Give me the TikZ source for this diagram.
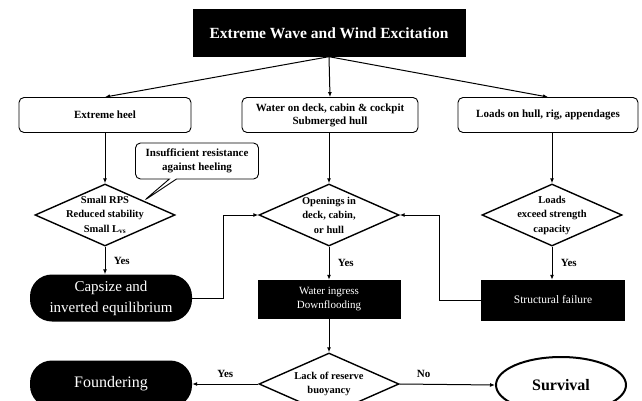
\documentclass[tikz,border=0pt]{standalone}
\usepackage{fontspec}
\setmainfont{Liberation Serif}
\usetikzlibrary{arrows.meta,calc,shapes.geometric,shapes.callouts}

\tikzset{
	blackbox/.style={draw=black, fill=black, text=white, align=center, inner sep=2pt},
	roundbox/.style={draw=black, line width=0.9pt, rounded corners=5pt, align=center, minimum height=35pt, font=\bfseries\fontsize{11}{13}\selectfont},
	decision/.style={diamond, draw=black, line width=1.4pt, inner sep=0pt, minimum width=140pt, minimum height=62pt},
	dtext/.style={align=center, inner sep=0pt, font=\bfseries\fontsize{10.5}{14.5}\selectfont},
	endstate/.style={rectangle, rounded corners=22pt, fill=black, text=white, align=center, minimum height=47pt, font=\fontsize{15}{21}\selectfont},
	flow/.style={-{Latex[length=5pt,width=4pt]}, line width=1pt},
	yesno/.style={font=\bfseries\fontsize{11}{13}\selectfont},
}

\begin{document}
\begin{tikzpicture}[x=1pt,y=-1pt]
			%%%%% START %%%%%
			\useasboundingbox (0,0) rectangle (642,401);
			
			\node[blackbox, minimum width=272pt, minimum height=47pt, font=\bfseries\fontsize{15.5}{18}\selectfont] (excite) at (329,33) {Extreme Wave and Wind Excitation};
			
			\node[roundbox, minimum width=172pt] (heel) at (105,115) {Extreme heel};
			\node[roundbox, minimum width=176pt] (water) at (330,115) {Water on deck, cabin \& cockpit\\Submerged hull};
			\node[roundbox, minimum width=180pt] (loads) at (548,115) {Loads on hull, rig, appendages};
			
			\node[decision, label={[dtext]center:{Small RPS\\Reduced stability\\Small L\textsubscript{vs}}}] (ldiam) at (105,215) {};
			\node[decision, label={[dtext]center:{Openings in\\deck, cabin,\\or hull}}] (mdiam) at (329,215) {};
			\node[decision, label={[dtext]center:{Loads\\exceed strength\\capacity}}] (rdiam) at (552,215) {};
			
			\node[rectangle callout, draw=black, line width=0.9pt, rounded corners=5pt, minimum width=123pt, minimum height=36pt, inner sep=2pt, align=center, font=\bfseries\fontsize{11}{14.5}\selectfont, callout absolute pointer={($(ldiam.north)!0.55!(ldiam.east)$)}] (note) at (197,161) {Insufficient resistance\\against heeling};
			
			\node[endstate, minimum width=162pt] (capsize) at (111,298) {Capsize and\\inverted equilibrium};
			\node[blackbox, minimum width=142pt, minimum height=38pt, font=\fontsize{11}{14}\selectfont] (ingress) at (329,299) {Water ingress\\Downflooding};
			\node[blackbox, minimum width=143pt, minimum height=40pt, font=\fontsize{11.5}{14}\selectfont] (failure) at (553,300) {Structural failure};
			
			\node[decision, label={[dtext]center:{Lack of reserve\\buoyancy}}] (reserve) at (329,384) {};
			\node[endstate, minimum width=162pt, font=\fontsize{16}{20}\selectfont] (founder) at (111,384) {Foundering};
			\node[ellipse, draw=black, line width=2pt, minimum width=130pt, minimum height=56pt, font=\bfseries\fontsize{16}{18}\selectfont] (survive) at (561,385) {Survival};
			
			\draw[flow] (excite.south) -- (heel.north);
			\draw[flow] (excite.south) -- (water.north);
			\draw[flow] (excite.south) -- (loads.north);
			
			\draw[flow] (heel.south) -- (ldiam.north);
			\draw[flow] (mdiam.north |- water.south) -- (mdiam.north);
			\draw[flow] (rdiam.north |- loads.south) -- (rdiam.north);
			
			\draw[flow] (ldiam.south) -- (ldiam.south |- capsize.north) node[yesno, midway, right=5pt] {Yes};
			\draw[flow] (mdiam.south) -- (ingress.north) node[yesno, midway, right=5pt] {Yes};
			\draw[flow] (rdiam.south) -- (rdiam.south |- failure.north) node[yesno, midway, right=5pt] {Yes};
			
			\draw[flow] (capsize.east) -- ++(31,0) |- (mdiam.west);
			\draw[flow] (failure.west) -- ++(-42,0) |- (mdiam.east);
			
			\draw[flow] (ingress.south) -- (reserve.north);
			\draw[flow] (reserve.west) -- (founder.east) node[yesno, midway, above=3pt] {Yes};
			\draw[flow] (reserve.east) -- (survive.west) node[yesno, pos=0.25, above=3pt] {No};
			
			%%%%% END %%%%%
\end{tikzpicture}
\end{document}
